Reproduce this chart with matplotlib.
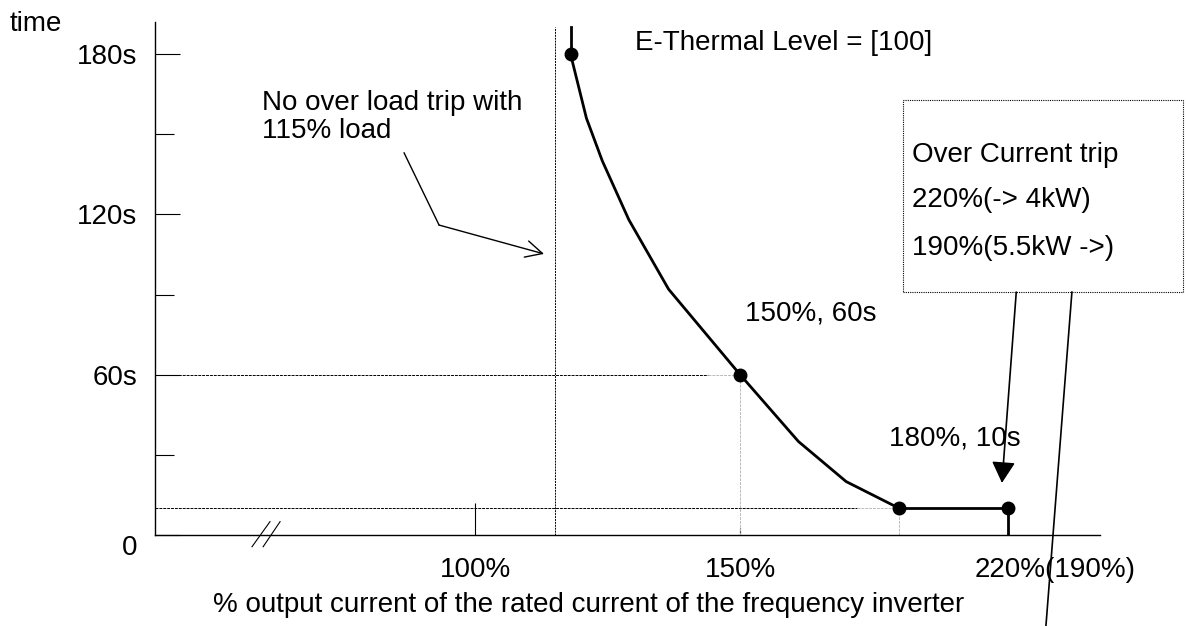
import matplotlib
matplotlib.use('Agg')
from matplotlib import pyplot as plt
from matplotlib.patches import Rectangle

plt.rcParams['font.family'] = ['Liberation Sans', 'DejaVu Sans']
plt.rcParams['font.size'] = 20

# data (x in % of rated current, schematic axis; y in seconds)
curve_x = [118, 121, 124, 129, 136.5, 150, 161, 170, 180]
curve_y = [180, 156, 140, 118, 92, 60, 35, 20, 10]
mark_x = [118, 150, 180]
mark_y = [180, 60, 10]
trip_x = 200.5          # where "220%(190%)" sits on the broken axis
trip_y = 10
no_trip_x = 115
top_y = 190

y_ticks = [0, 60, 120, 180]
y_labels = ['0', '60s', '120s', '180s']
y_minor = [30, 90, 150]
x_ticks = [100, 150]
x_labels = ['100%', '150%']
trip_label = '220%(190%)'

fig = plt.figure(figsize=(11.88, 6.26), dpi=100)
ax = fig.add_axes([155/1188, 91/626, 945/1188, 513/626])
ax.set_xlim(39.6, 217.9)
ax.set_ylim(0, 192)
for s in ['top', 'right']:
    ax.spines[s].set_visible(False)
ax.spines['left'].set_linewidth(1.0)
ax.spines['bottom'].set_linewidth(1.0)

# guide lines
ax.plot([39.6, 144], [60, 60], color='black', lw=0.7, ls=(0, (3, 1)))
ax.plot([144, 150], [60, 60], color='#bbbbbb', lw=0.7, ls=(0, (3, 1)))
ax.plot([39.6, 172], [10, 10], color='black', lw=0.7, ls=(0, (3, 1)))
ax.plot([172, 180], [10, 10], color='#bbbbbb', lw=0.7, ls=(0, (3, 1)))
ax.plot([150, 150], [0, 60], color='#bbbbbb', lw=0.7, ls=(0, (3, 1)))
ax.plot([180, 180], [0, 10], color='#bbbbbb', lw=0.7, ls=(0, (3, 1)))
ax.plot([no_trip_x, no_trip_x], [0, top_y], color='black', lw=0.7, ls=(0, (2, 1)), clip_on=False)

# curve
ax.plot([curve_x[0], curve_x[0]], [curve_y[0], top_y], color='black', lw=2, clip_on=False)
ax.plot(curve_x, curve_y, color='black', lw=2)
ax.plot([curve_x[-1], trip_x], [trip_y, trip_y], color='black', lw=2)
ax.plot([trip_x, trip_x], [0, trip_y], color='black', lw=2)
ax.plot(mark_x + [trip_x], mark_y + [trip_y], 'o', color='black', ms=9, clip_on=False)

# axis break
ax.plot([57.9, 61.3], [-4.4, 5], color='black', lw=0.8, clip_on=False)
ax.plot([60.0, 63.2], [-4.4, 5], color='black', lw=0.8, clip_on=False)

# ticks
ax.set_yticks(y_ticks)
ax.set_yticklabels(y_labels)
ax.set_yticks(y_minor, minor=True)
ax.set_xticks(x_ticks)
ax.set_xticklabels(x_labels)
ax.tick_params(axis='y', which='major', direction='in', length=18, width=0.8, pad=13)
ax.tick_params(axis='y', which='minor', direction='in', length=14, width=0.8)
ax.tick_params(axis='x', which='major', direction='in', length=23, width=0.8, pad=16)
ax.xaxis.get_major_ticks()[1].tick1line.set_markersize(5)
ax.get_yticklabels()[0].set_verticalalignment('top')
ax.annotate(trip_label, xy=(trip_x, 0), xytext=(-33, -22), textcoords='offset pixels',
            ha='left', va='top')

# texts
fig.text(10/1188, 1 - 24/626, 'time', ha='left', va='center')
fig.text(589/1188, 1 - 605/626, '% output current of the rated current of the frequency inverter',
         ha='center', va='center')
ax.text(130.2, 184, 'E-Thermal Level = [100]', ha='left', va='center')
ax.text(59.8, 156.4, 'No over load trip with\n115% load', ha='left', va='center', linespacing=1.1)
ax.text(150.9, 83, '150%, 60s', ha='left', va='center')
ax.text(178.1, 36.3, '180%, 10s', ha='left', va='center')

# no-trip pointer
ax.plot([86.6, 93.2], [143, 116], color='black', lw=1, clip_on=False)
ax.annotate('', xy=(113.0, 105.2), xytext=(93.2, 116),
            arrowprops=dict(arrowstyle='->,head_length=0.6,head_width=0.3', lw=1,
                            color='black', mutation_scale=20, shrinkA=0, shrinkB=0))

# over current box
box = Rectangle((180.8, 90.9), 52.8, 71.9, fill=False, ec='black', lw=0.8,
                ls=(0, (1, 1)), clip_on=False)
ax.add_patch(box)
ax.text(182.5, 142.2, 'Over Current trip', ha='left', va='center')
ax.text(182.5, 125.4, '220%(-> 4kW)', ha='left', va='center')
ax.text(182.5, 107.4, '190%(5.5kW ->)', ha='left', va='center')
ax.annotate('', xy=(199.4, 19.5), xytext=(202.1, 90.9),
            arrowprops=dict(arrowstyle='-|>,head_length=0.65,head_width=0.36', lw=1.2,
                            color='black', mutation_scale=20, shrinkA=0, shrinkB=0))
ax.plot([212.6, 207.7], [90.9, -34], color='black', lw=1.2, clip_on=False)

plt.savefig('out.png', dpi=100)
plt.close()
